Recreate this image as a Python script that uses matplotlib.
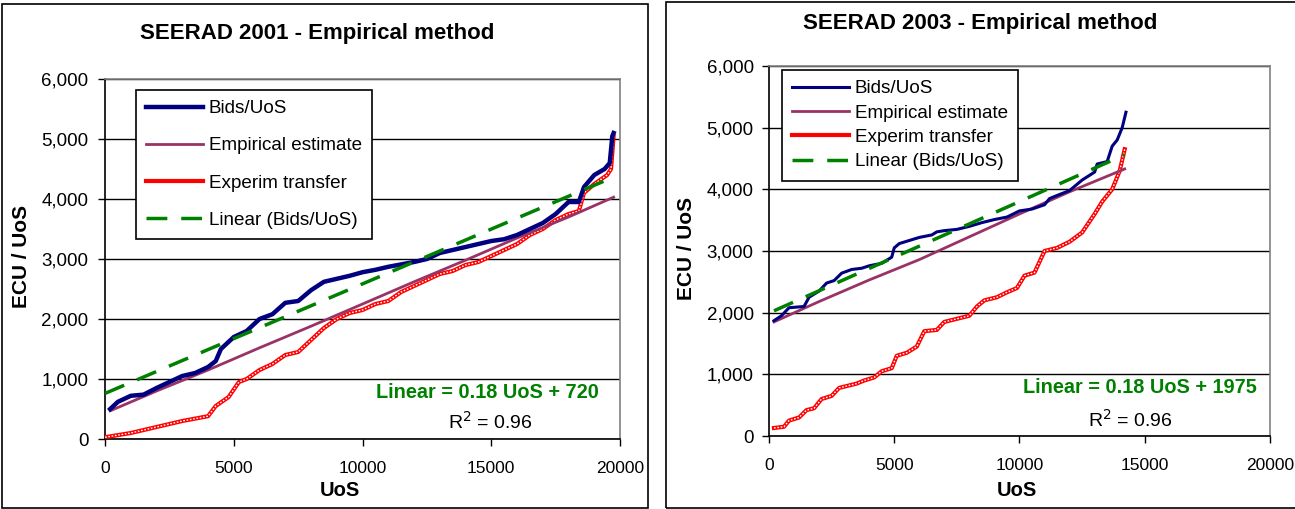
import matplotlib
matplotlib.use('Agg')
import matplotlib.pyplot as plt
from matplotlib.patches import Rectangle
from matplotlib.ticker import FuncFormatter, MultipleLocator

plt.rcParams['font.family'] = ['Liberation Sans', 'DejaVu Sans']

# ---- SEERAD 2001 ----
bids01_x = [200, 500, 1000, 1500, 2000, 2500, 3000, 3500, 4000, 4300, 4500,
            5000, 5500, 6000, 6500, 7000, 7500, 8000, 8500, 9000, 9500, 10000,
            10500, 11000, 11500, 12000, 12500, 13000, 13500, 14000, 14500,
            15000, 15500, 16000, 16500, 17000, 17500, 18000, 18400, 18600,
            19000, 19400, 19600, 19700, 19750]
bids01_y = [500, 620, 720, 740, 850, 950, 1050, 1100, 1200, 1300, 1500,
            1700, 1800, 2000, 2080, 2270, 2300, 2480, 2620, 2670, 2720, 2780,
            2820, 2870, 2910, 2950, 3000, 3100, 3150, 3200, 3250,
            3300, 3330, 3400, 3500, 3600, 3750, 3950, 3950, 4200,
            4400, 4500, 4600, 5050, 5100]
emp01_x = [200, 2000, 4000, 6000, 8000, 10000, 12000, 14000, 16000, 18000, 19750]
emp01_y = [470, 800, 1150, 1520, 1880, 2250, 2620, 2980, 3350, 3700, 4030]
exp01_x = [0, 1000, 2000, 3000, 4000, 4300, 4800, 5200, 5500, 6000, 6500,
           7000, 7500, 8000, 8500, 9000, 9500, 10000, 10500, 11000, 11500,
           12000, 12500, 13000, 13500, 14000, 14500, 15000, 15500, 16000,
           16500, 17000, 17500, 18000, 18400, 18600, 19000, 19500, 19650, 19750]
exp01_y = [30, 100, 200, 300, 380, 550, 700, 950, 1000, 1150, 1250,
           1400, 1450, 1650, 1850, 2000, 2100, 2150, 2250, 2300, 2450,
           2550, 2650, 2750, 2800, 2900, 2950, 3050, 3150, 3250,
           3400, 3500, 3650, 3750, 3800, 4100, 4250, 4400, 4500, 5050]
lin01_x = [0, 19500]
lin01_y = [760, 4320]

# ---- SEERAD 2003 ----
bids03_x = [200, 500, 800, 1400, 1600, 2000, 2300, 2600, 2900, 3300, 3700,
            4000, 4500, 4900, 5000, 5200, 5600, 6000, 6500, 6700, 7000, 7500,
            8000, 8500, 9000, 9500, 10000, 10500, 11000, 11200, 11500, 12000,
            12500, 13000, 13100, 13500, 13700, 13900, 14100, 14250]
bids03_y = [1870, 1950, 2080, 2100, 2250, 2350, 2480, 2520, 2640, 2700, 2720,
            2760, 2800, 2900, 3050, 3120, 3170, 3220, 3260, 3310, 3330, 3350,
            3400, 3460, 3510, 3550, 3650, 3680, 3750, 3850, 3900, 3980,
            4150, 4280, 4410, 4450, 4700, 4800, 5000, 5250]
emp03_x = [200, 2000, 4000, 6000, 8000, 10000, 12000, 14200]
emp03_y = [1850, 2180, 2530, 2860, 3230, 3600, 3960, 4330]
exp03_x = [200, 600, 800, 1200, 1500, 1800, 2100, 2500, 2800, 3200, 3500,
           3800, 4200, 4500, 4900, 5100, 5500, 5900, 6200, 6700, 7000, 7500,
           8000, 8300, 8600, 9100, 9500, 9900, 10200, 10600, 11000, 11500,
           12000, 12500, 13000, 13300, 13700, 14000, 14200]
exp03_y = [130, 150, 250, 300, 420, 450, 600, 650, 780, 820, 850,
           900, 950, 1050, 1100, 1300, 1350, 1450, 1700, 1720, 1850, 1900,
           1950, 2100, 2200, 2250, 2330, 2400, 2600, 2650, 3000, 3050,
           3150, 3300, 3600, 3800, 4000, 4300, 4650]
lin03_x = [200, 14200]
lin03_y = [2030, 4560]

labels = ['Bids/UoS', 'Empirical estimate', 'Experim transfer', 'Linear (Bids/UoS)']

fig = plt.figure(figsize=(12.95, 5.09), dpi=100)

# panel borders
fig.patches.append(Rectangle((0.0015, 0.002), 0.499, 0.990, transform=fig.transFigure,
                             fill=False, edgecolor='black', linewidth=1.2))
fig.patches.append(Rectangle((0.514, 0.002), 0.49, 0.994, transform=fig.transFigure,
                             fill=False, edgecolor='black', linewidth=1.2))


def make_panel(rect, bx, by, ex, ey, px, py, lx, ly, bids_lw, title, title_xy,
               eq, eq_xy, r2_xy, leg_anchor, leg_spacing, xlab_xy, ylab_xy, ypad):
    ax = fig.add_axes(rect)
    hb, = ax.plot(bx, by, color='#000080', lw=bids_lw, zorder=5)
    he, = ax.plot(ex, ey, color='#993366', lw=2, zorder=4)
    hp, = ax.plot(px, py, color='#ff0000', lw=3, zorder=3)
    ax.plot(px, py, color='white', lw=1.0, ls=(0, (1.2, 1.2)), zorder=3.5)
    hl, = ax.plot(lx, ly, color='#008000', lw=2.5, ls=(0, (6, 4)), zorder=6)

    ax.set_xlim(0, 20000)
    ax.set_ylim(0, 6000)
    ax.xaxis.set_major_locator(MultipleLocator(5000))
    ax.yaxis.set_major_locator(MultipleLocator(1000))
    ax.yaxis.set_major_formatter(FuncFormatter(lambda v, p: f'{int(v):,}'))
    ax.grid(axis='y', color='black', lw=1)
    ax.set_axisbelow(True)
    for s in ['top', 'right']:
        ax.spines[s].set_color('#808080')
        ax.spines[s].set_linewidth(1.2)
    for s in ['left', 'bottom']:
        ax.spines[s].set_linewidth(1.2)
    ax.tick_params(direction='out', length=5, width=1)
    ax.tick_params(axis='x', labelsize=12.5, pad=11)
    ax.tick_params(axis='y', labelsize=13.5, pad=ypad)
    ax.set_xlabel('UoS', fontsize=14.5, fontweight='bold')
    ax.set_ylabel('ECU / UoS', fontsize=15, fontweight='bold')
    ax.xaxis.set_label_coords(*xlab_xy)
    ax.yaxis.set_label_coords(*ylab_xy)
    fig.text(title_xy[0], title_xy[1], title, ha='center', va='center',
             fontsize=16, fontweight='bold')

    leg = ax.legend([hb, he, hp, hl], labels, loc='upper left',
                    bbox_to_anchor=leg_anchor, fontsize=13.6, frameon=True,
                    fancybox=False, edgecolor='black', framealpha=1,
                    labelspacing=leg_spacing, handlelength=3.0,
                    handletextpad=0.3, borderpad=0.55, borderaxespad=0)
    leg.get_frame().set_linewidth(1.2)
    leg.set_zorder(10)

    ax.text(eq_xy[0], eq_xy[1], eq, transform=ax.transAxes, ha='right',
            va='center', fontsize=14.3, fontweight='bold', color='#008000')
    ax.text(r2_xy[0], r2_xy[1], r'R$^2$ = 0.96', transform=ax.transAxes,
            ha='center', va='center', fontsize=14)
    return ax


make_panel([0.0811, 0.1375, 0.3977, 0.7073], bids01_x, bids01_y, emp01_x, emp01_y,
           exp01_x, exp01_y, lin01_x, lin01_y, 3.2,
           'SEERAD 2001 - Empirical method', (0.245, 0.935),
           'Linear = 0.18 UoS + 720', (0.959, 0.13), (0.748, 0.047),
           (0.06, 0.97), 1.05, (0.456, -0.117), (-0.143, 0.508), 7)

make_panel([0.5938, 0.1434, 0.3869, 0.727], bids03_x, bids03_y, emp03_x, emp03_y,
           exp03_x, exp03_y, lin03_x, lin03_y, 2.2,
           'SEERAD 2003 - Empirical method', (0.757, 0.953),
           'Linear = 0.18 UoS + 1975', (0.974, 0.13), (0.722, 0.043),
           (0.026, 0.99), 0.38, (0.495, -0.122), (-0.146, 0.508), 6)

fig.savefig('out.png', dpi=100)
